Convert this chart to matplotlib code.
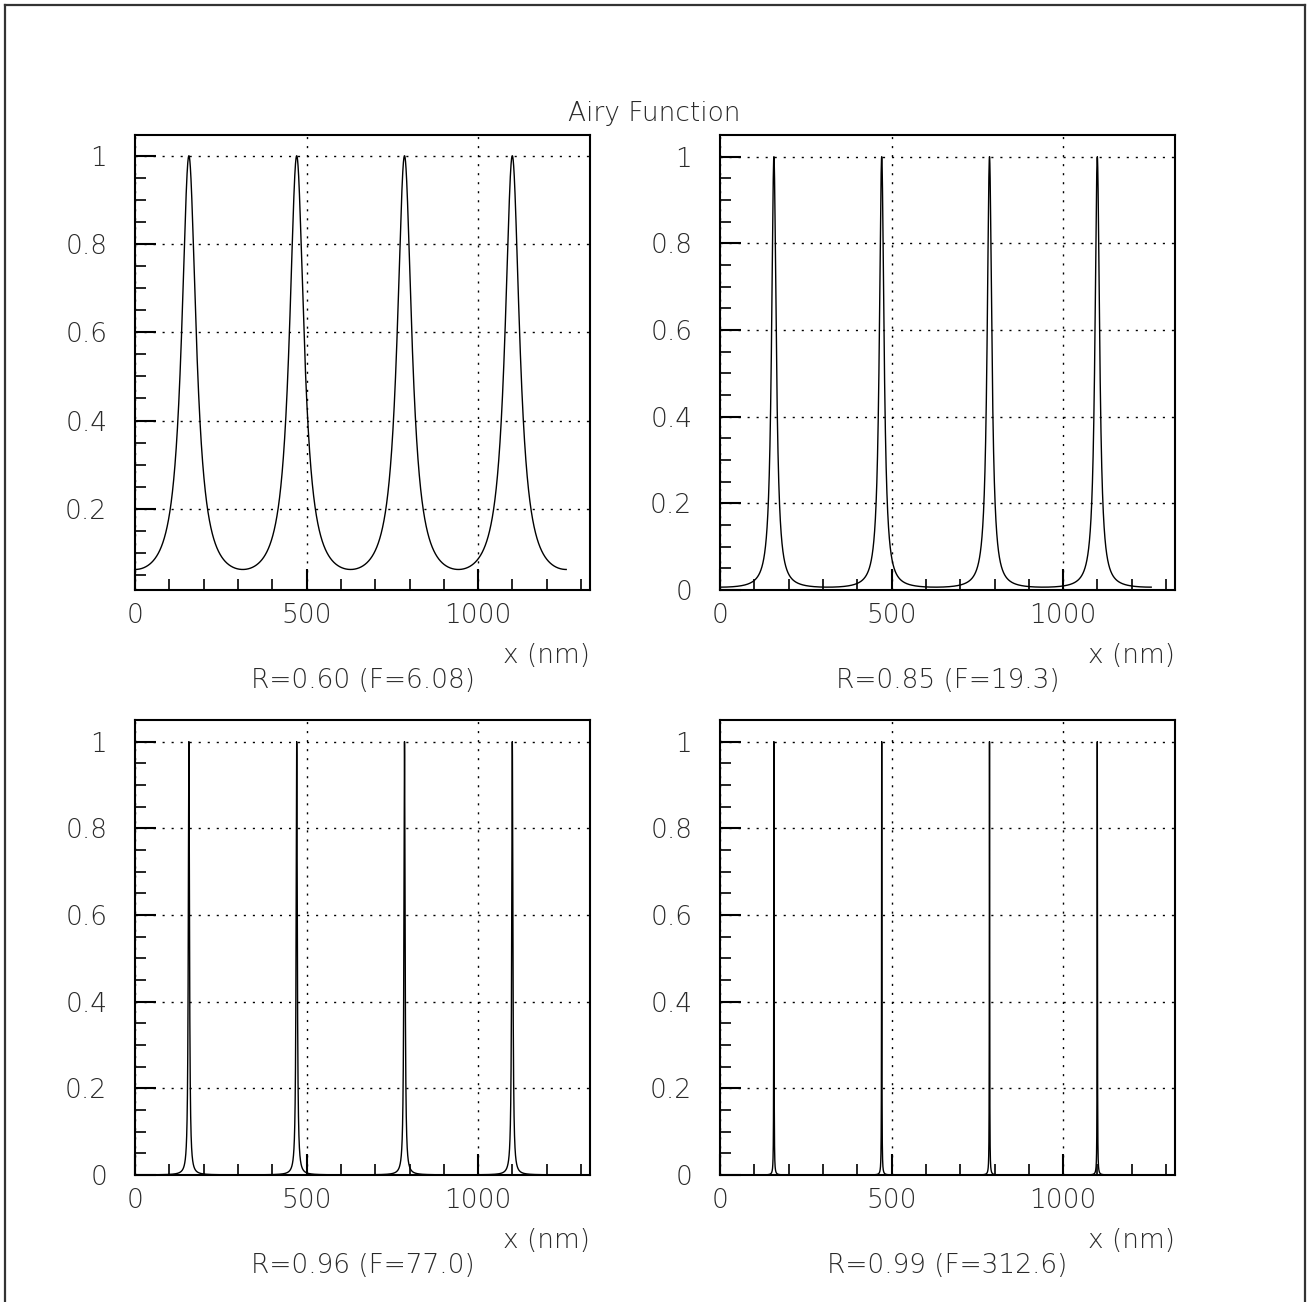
"""Airy function for four mirror reflectivities (PAW style)"""

import numpy as np
import matplotlib.pyplot as plt
from matplotlib.lines import Line2D

# reflectivities and labels shown under each panel
R_values = [0.60, 0.85, 0.96, 0.99]
labels = ["R=0.60 (F=6.08)", "R=0.85 (F=19.3)", "R=0.96 (F=77.0)", "R=0.99 (F=312.6)"]
y_limits = [(0.016, 1.047), (0.0, 1.05), (0.0, 1.05), (0.0, 1.05)]
x_major = [0, 500, 1000]
y_major = [0, 0.2, 0.4, 0.6, 0.8, 1]
y_major_labels = ["0", "0.2", "0.4", "0.6", "0.8", "1"]

# x from 0 to 400*pi nm, peaks at odd multiples of 50*pi
x = np.linspace(0, 400 * np.pi, 8 * 5000 + 1)

plt.rcParams['font.family'] = ['DejaVu Sans']
plt.rcParams['font.weight'] = 'light'
txt_col = '#2a2a2a'

fig = plt.figure(figsize=(13.09, 13.02), dpi=100)

# axes boxes in pixels: (left, top) of each frame, frame is 455 x 455
boxes = [(135, 135), (720, 135), (135, 720), (720, 720)]
W, H = 1309, 1302

for i, (R, lab) in enumerate(zip(R_values, labels)):
    left, top = boxes[i]
    ax = fig.add_axes([left / W, 1 - (top + 455) / H, 455 / W, 455 / H])
    F = 4 * R / (1 - R) ** 2
    y = 1.0 / (1.0 + F * np.cos(x / 100.0) ** 2)
    ax.plot(x, y, color='black', lw=1.0)

    ax.set_xticks(x_major)
    ax.set_xticks(np.arange(0, 1301, 100), minor=True)
    ax.set_yticks(y_major)
    ax.set_yticklabels(y_major_labels)
    ax.set_yticks(np.arange(0, 1.01, 0.05), minor=True)
    # limits after ticks, set_ticks would widen them
    ax.set_xlim(0, 1326)
    ax.set_ylim(*y_limits[i])
    ax.tick_params(axis='both', which='both', direction='in', top=False, right=False,
                   color='black', labelcolor=txt_col)
    ax.tick_params(axis='y', which='major', length=15, width=1.5, pad=20, labelsize=19)
    ax.tick_params(axis='y', which='minor', length=8, width=1.2)
    ax.tick_params(axis='x', which='major', length=15, width=1.5, pad=9, labelsize=19)
    ax.tick_params(axis='x', which='minor', length=8, width=1.2)
    ax.grid(True, which='major', color='black', lw=1.0, linestyle=(0, (1.5, 5)))
    for s in ax.spines.values():
        s.set_linewidth(1.5)

    ax.text(1.0, -0.143, "x (nm)", transform=ax.transAxes, ha='right', va='center',
            fontsize=19, color=txt_col)
    ax.text(0.5, -0.198, lab, transform=ax.transAxes, ha='center', va='center',
            fontsize=19, color=txt_col)

fig.text(0.5, 1 - 113 / H, "Airy Function", ha='center', va='center', fontsize=19, color=txt_col)

# outer frame: left, top and right sides
for xs, ys in [([5 / W, 5 / W], [0, 1 - 5 / H]),
               ([5 / W, 1305 / W], [1 - 5 / H, 1 - 5 / H]),
               ([1305 / W, 1305 / W], [0, 1 - 5 / H])]:
    fig.add_artist(Line2D(xs, ys, transform=fig.transFigure, color='#333333', lw=1.6))

plt.savefig('out.png', dpi=100)
